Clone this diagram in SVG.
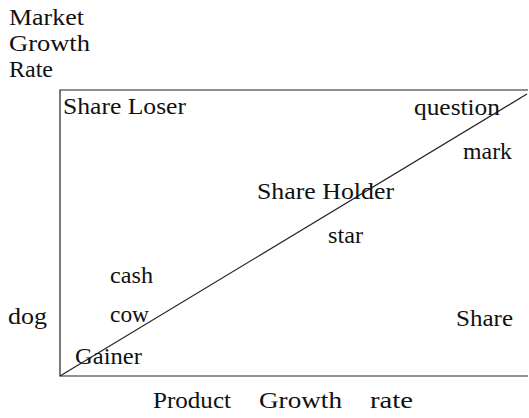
<svg xmlns="http://www.w3.org/2000/svg" width="529" height="418" viewBox="0 0 529 418">
<style>
text{font-family:"Liberation Serif","Times New Roman",serif;font-size:23px;fill:#111}
.ln{stroke:#222;stroke-width:1.2;fill:none}
</style>
<rect width="529" height="418" fill="#fff"/>
<g id="axes">
<text x="9" y="25" textLength="75" lengthAdjust="spacingAndGlyphs">Market</text>
<text x="9" y="51" textLength="81" lengthAdjust="spacingAndGlyphs">Growth</text>
<text x="9" y="77" textLength="44" lengthAdjust="spacingAndGlyphs">Rate</text>
<text x="153" y="408" textLength="78" lengthAdjust="spacingAndGlyphs">Product</text>
<text x="259" y="408" textLength="83" lengthAdjust="spacingAndGlyphs">Growth</text>
<text x="370" y="408" textLength="43" lengthAdjust="spacingAndGlyphs">rate</text>
</g>
<g id="connectors">
<path class="ln" d="M528,90 H60 V376 H528"/>
<line class="ln" x1="60" y1="376" x2="527" y2="94"/>
</g>
<g id="share-loser"><text x="63" y="114" textLength="123" lengthAdjust="spacingAndGlyphs">Share  Loser</text></g>
<g id="question-mark">
<text x="414" y="115" textLength="86" lengthAdjust="spacingAndGlyphs">question</text>
<text x="463" y="159" textLength="49" lengthAdjust="spacingAndGlyphs">mark</text>
</g>
<g id="share-holder"><text x="257" y="199" textLength="137" lengthAdjust="spacingAndGlyphs">Share  Holder</text></g>
<g id="star"><text x="328" y="243" textLength="35" lengthAdjust="spacingAndGlyphs">star</text></g>
<g id="cash-cow">
<text x="110" y="283" textLength="43" lengthAdjust="spacingAndGlyphs">cash</text>
<text x="110" y="322" textLength="39" lengthAdjust="spacingAndGlyphs">cow</text>
</g>
<g id="dog"><text x="8" y="324" textLength="39" lengthAdjust="spacingAndGlyphs">dog</text></g>
<g id="share-gainer">
<text x="456" y="326" textLength="57" lengthAdjust="spacingAndGlyphs">Share</text>
<text x="75" y="364" textLength="67" lengthAdjust="spacingAndGlyphs">Gainer</text>
</g>
</svg>
